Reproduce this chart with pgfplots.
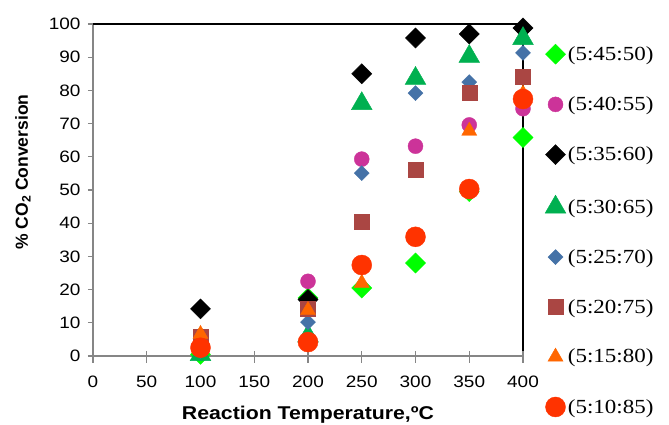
\documentclass[border=0pt]{standalone}
\usepackage{fontspec}
\setmainfont{Liberation Serif}[FakeStretch=1.15]
\setsansfont{Liberation Sans}[FakeStretch=1.15]
\newfontfamily\yfont{Liberation Sans}
\usepackage{pgfplots}
\pgfplotsset{compat=1.18}
\definecolor{clime}{RGB}{0,255,0}
\definecolor{cmag}{RGB}{204,51,153}
\definecolor{cgreen}{RGB}{0,176,80}
\definecolor{cblue}{RGB}{69,114,167}
\definecolor{cbrown}{RGB}{170,70,67}
\definecolor{corange}{RGB}{255,102,0}
\definecolor{cred}{RGB}{255,51,0}
\definecolor{cgray}{RGB}{134,134,134}
\begin{document}
\begin{tikzpicture}
\begin{axis}[
  at={(93pt,68pt)}, anchor=south west,
  scale only axis, width=430pt, height=332pt,
  xmin=0, xmax=400, ymin=0, ymax=100,
  xtick={0,50,...,400}, ytick={0,10,...,100},
  axis line style={draw=none},
  clip=false,
  tick align=outside, xtick pos=bottom, ytick pos=left,
  major tick length=5pt,
  ytick style={cgray, line width=1.2pt},
  xtick style={draw=none},
  /pgf/number format/assume math mode=true,
  tick label style={font=\sffamily\fontsize{16.5}{18}\selectfont},
  yticklabel style={xshift=-4pt},
  xticklabel style={yshift=-11pt},
  xlabel={Reaction Temperature,ºC},
  ylabel={\% CO\textsubscript{2} Conversion},
  xlabel style={font=\sffamily\bfseries\fontsize{18.5}{20}\selectfont, at={(axis description cs:0.5,0)}, anchor=base, yshift=-63pt},
  ylabel style={font=\yfont\bfseries\fontsize{17.5}{20}\selectfont, at={(axis description cs:-0.163,0.554)}, anchor=center},
  only marks,
  legend style={at={(axis description cs:1.051,0.94)}, anchor=north west, draw=none, fill=none,
    font=\fontsize{20}{24}\selectfont, row sep=30.5pt, inner sep=0pt},
  legend cell align=left,
  legend image code/.code={\draw[#1] plot coordinates {(0pt,0pt)};},
]
\draw[cgray, line width=1.5pt] (rel axis cs:0,1) -- (rel axis cs:0,0) -- (rel axis cs:1,0);
\draw[black, line width=1.5pt] (rel axis cs:0,1) -- (rel axis cs:1,1) -- (rel axis cs:1,0);
\pgfplotsinvokeforeach{0,50,100,150,200,250,300,350,400}{
  \draw[cgray, line width=1.2pt] (axis cs:#1,0) ++(0,5pt) -- ++(0,-12pt);
}
\addplot[mark=square*, mark size=7.1pt, mark options={rotate=45, fill=clime, draw=clime}] coordinates {
(100,0.5) (200,17.5) (250,20.5) (300,28) (350,49.5) (400,65.8)};
\addlegendentry{(5:45:50)}
\addplot[mark=*, mark size=7.5pt, mark options={fill=cmag, draw=cmag}] coordinates {
(100,2) (200,22.5) (250,59.3) (300,63.2) (350,69.6) (400,74.5)};
\addlegendentry{(5:40:55)}
\addplot[mark=square*, mark size=7.1pt, mark options={rotate=45, fill=black, draw=black}] coordinates {
(100,14.2) (200,17) (250,85) (300,95.8) (350,97) (400,98.8)};
\addlegendentry{(5:35:60)}
\addplot[mark=triangle*, mark size=12pt, mark options={fill=cgreen, draw=cgreen}] coordinates {
(100,0.4) (200,6) (250,76) (300,83.6) (350,90.2) (400,95.6)};
\addlegendentry{(5:30:65)}
\addplot[mark=square*, mark size=5.3pt, mark options={rotate=45, fill=cblue, draw=cblue}] coordinates {
(100,1.5) (200,10.2) (250,55.1) (300,79.2) (350,82.5) (400,91.3)};
\addlegendentry{(5:25:70)}
\addplot[mark=square*, mark size=7.5pt, mark options={fill=cbrown, draw=cbrown}] coordinates {
(100,5.7) (200,14.2) (250,40.5) (300,56.2) (350,79.2) (400,84.2)};
\addlegendentry{(5:20:75)}
\addplot[mark=triangle*, mark size=8.7pt, mark options={fill=corange, draw=corange}] coordinates {
(100,6.6) (200,13.8) (250,22) (300,36) (350,67.8) (400,79)};
\addlegendentry{(5:15:80)}
\addplot[mark=*, mark size=10pt, mark options={fill=cred, draw=cred}] coordinates {
(100,2.5) (200,4.2) (250,27.4) (300,35.9) (350,50.3) (400,77.4)};
\addlegendentry{(5:10:85)}
\end{axis}
\pgfresetboundingbox
\useasboundingbox (0,0) rectangle (669pt,424pt);
\end{tikzpicture}
\end{document}
